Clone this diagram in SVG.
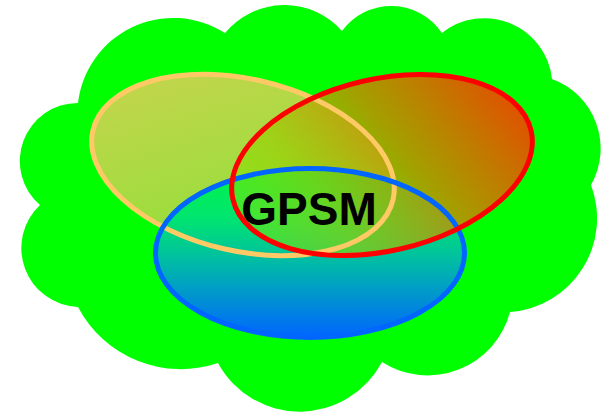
<svg xmlns="http://www.w3.org/2000/svg" width="605" height="413" viewBox="0 0 605 413">
  <defs>
    <linearGradient id="gBlue" x1="0" y1="0" x2="0" y2="1">
      <stop offset="0" stop-color="#00f548"/>
      <stop offset="0.3" stop-color="#00e470"/>
      <stop offset="0.55" stop-color="#00bca6"/>
      <stop offset="1" stop-color="#0066ff"/>
    </linearGradient>
    <linearGradient id="gYellow" x1="0" y1="0" x2="1" y2="1">
      <stop offset="0" stop-color="#ffc864" stop-opacity="0.8"/>
      <stop offset="1" stop-color="#ffc864" stop-opacity="0.5"/>
    </linearGradient>
    <linearGradient id="gRed" gradientUnits="userSpaceOnUse" x1="530" y1="95" x2="250" y2="230">
      <stop offset="0" stop-color="#ff3300" stop-opacity="0.92"/>
      <stop offset="0.45" stop-color="#cc8800" stop-opacity="0.8"/>
      <stop offset="0.75" stop-color="#99cc00" stop-opacity="0.65"/>
      <stop offset="1" stop-color="#77ee00" stop-opacity="0.5"/>
    </linearGradient>
    <ellipse id="shapeBlue" cx="310" cy="253" rx="154.5" ry="84.5"/>
    <ellipse id="shapeYellow" cx="243" cy="165" rx="154" ry="86" transform="rotate(13 243 165)"/>
    <ellipse id="shapeRed" cx="382" cy="165" rx="153" ry="86" transform="rotate(-13 382 165)"/>
    <style>
      .cloud { fill: #00ff00; }
      .outline { fill: none; stroke-width: 5; }
      .label { font-family: "Liberation Sans", Arial, sans-serif; font-weight: bold; font-size: 46px; fill: #000000; text-anchor: middle; }
    </style>
  </defs>
  <g id="cloud">
    <path class="cloud" d="M78,103 A96,96 0 0 1 225,33 A77,77 0 0 1 342,31 A61,61 0 0 1 442,33 A68,68 0 0 1 552,79 A74,74 0 0 1 591,185 A94,94 0 0 1 510,312 A85,85 0 0 1 382,362 A93,93 0 0 1 218,363 A116,116 0 0 1 78,307 A59,59 0 0 1 40,205 A58,58 0 0 1 78,103 Z"/>
  </g>
  <g id="yellow-set">
    <use href="#shapeYellow" fill="url(#gYellow)"/>
  </g>
  <g id="blue-set">
    <use href="#shapeBlue" fill="url(#gBlue)"/>
  </g>
  <g id="red-set">
    <use href="#shapeRed" fill="url(#gRed)"/>
  </g>
  <g id="outlines">
    <use href="#shapeYellow" class="outline" stroke="#ffc966"/>
    <use href="#shapeBlue" class="outline" stroke="#0066ff"/>
    <use href="#shapeRed" class="outline" stroke="#ff0000" stroke-width="6"/>
  </g>
  <g id="title">
    <text class="label" x="309" y="225">GPSM</text>
  </g>
</svg>
